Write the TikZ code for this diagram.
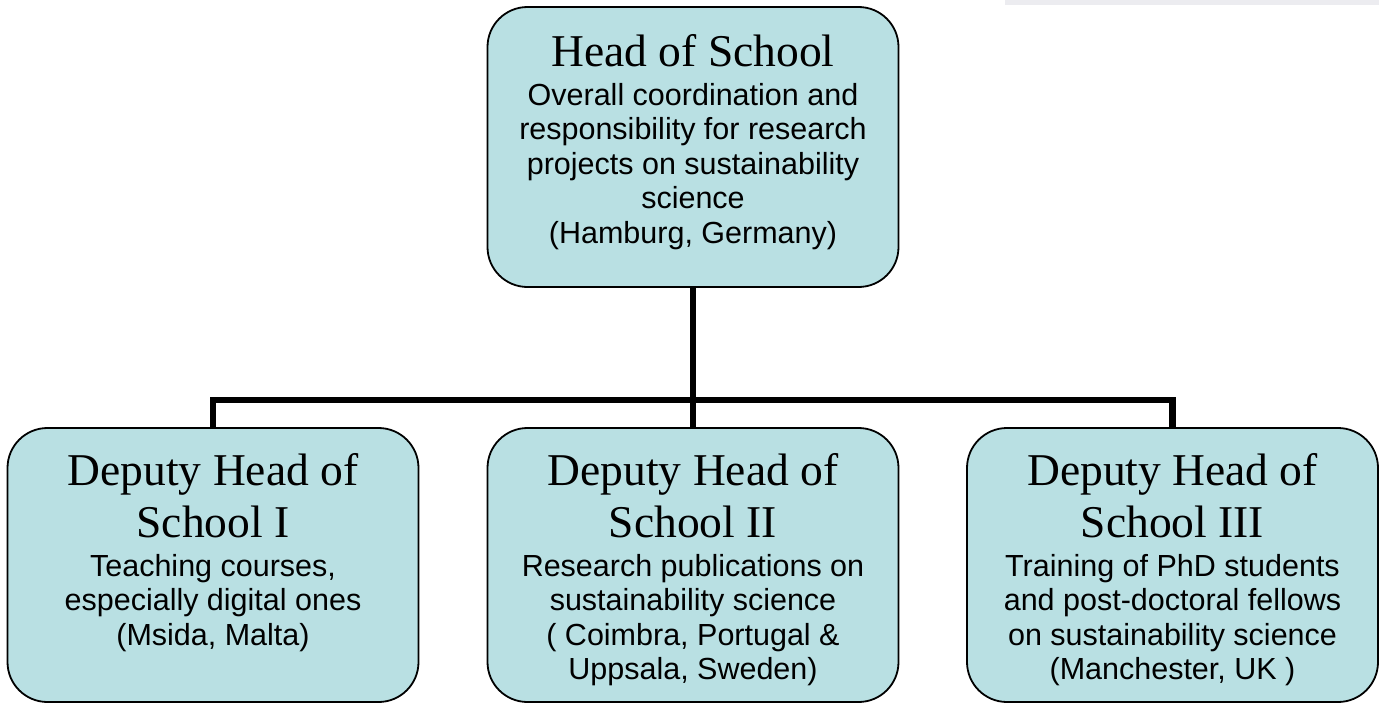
\documentclass[tikz,border=0pt]{standalone}
\usepackage{fontspec}
\setmainfont{Liberation Serif}
\newfontfamily\arialfont{Liberation Sans}
\definecolor{boxfill}{RGB}{185,224,227}
\definecolor{bandgray}{RGB}{236,236,240}
\tikzset{
  orgbox/.style={draw=black, line width=1.8pt, fill=boxfill, rounded corners=40pt,
    minimum width=411pt, minimum height=280pt, inner sep=0pt},
  orgtxt/.style={anchor=north, inner sep=0pt, text width=420pt, align=center},
  conn/.style={draw=black, line width=6.5pt, line cap=butt, line join=miter},
}
\newcommand{\fixsp}{\spaceskip=\fontdimen2\font\relax\xspaceskip=\fontdimen2\font\relax
  \leftskip=0pt plus 1fil\rightskip=0pt plus 1fil\parfillskip=0pt\relax}
\newcommand{\ttl}[1]{{\fontsize{45.5}{52}\selectfont\fixsp #1\par}\vspace{4.5pt}}
\newcommand{\bdy}[1]{{\arialfont\fontsize{30.5}{34.5}\selectfont\fixsp #1\par}}
\begin{document}
\begin{tikzpicture}[x=1pt,y=-1pt]
\useasboundingbox (0,0) rectangle (1379,704);
\fill[bandgray] (1005,0) rectangle (1379,4.5);
% boxes
\node[orgbox, minimum height=280pt] (head) at (693,147) {};
\node[orgbox, minimum height=274pt] (d1) at (213,565) {};
\node[orgbox, minimum height=274pt] (d2) at (693,565) {};
\node[orgbox, minimum height=274pt] (d3) at (1172.5,565) {};
\coordinate (junction) at (693,400);
% connectors
\draw[conn] (head.south) -- (d2.north);
\draw[conn] (d1.north) |- (junction) -| (d3.north);
% texts
\node[orgtxt] (headtxt) at (693,34) {\ttl{Head of School}\bdy{Overall coordination and\\ responsibility for research\\ projects on sustainability\\ science\\ (Hamburg, Germany)}};
\node[orgtxt] (d1txt) at (213,453) {\ttl{Deputy Head of\\ School I}\bdy{Teaching courses,\\ especially digital ones\\ (Msida, Malta)}};
\node[orgtxt] (d2txt) at (693,453) {\ttl{Deputy Head of\\ School II}\bdy{Research publications on\\ sustainability science\\ ( Coimbra, Portugal \&\\ Uppsala, Sweden)}};
\node[orgtxt] (d3txt) at (1172.5,453) {\ttl{Deputy Head of\\ School III}\bdy{Training of PhD students\\ and post-doctoral fellows\\ on sustainability science\\ (Manchester, UK )}};
\end{tikzpicture}
\end{document}
